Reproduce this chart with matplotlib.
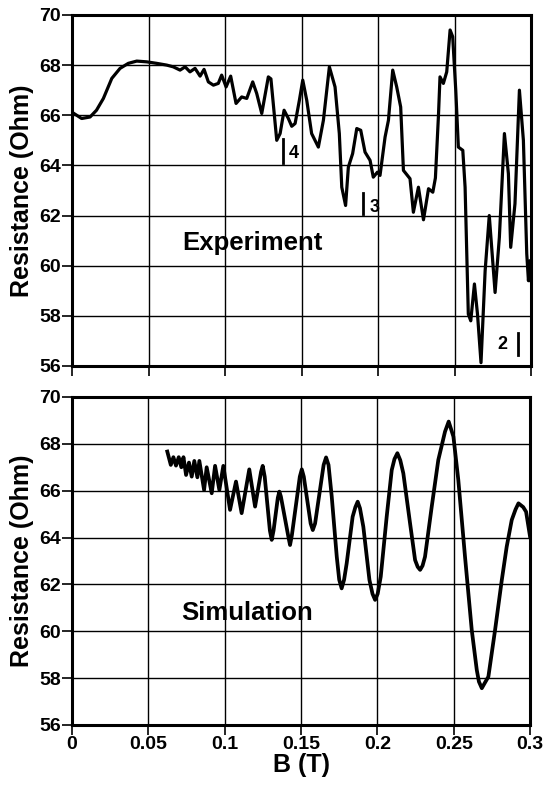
import numpy as np
import matplotlib
matplotlib.use("Agg")
from matplotlib import pyplot as plt

plt.rcParams["font.family"] = ["Liberation Sans", "DejaVu Sans"]
plt.rcParams["font.weight"] = "bold"

# measured resistance vs field
b_exp = [0, 0.0063, 0.0118, 0.016, 0.0205, 0.026, 0.0314, 0.0368, 0.0423, 0.0488,
         0.0553, 0.0619, 0.0662, 0.0706, 0.0739, 0.0771, 0.0804, 0.0837, 0.0863, 0.0891,
         0.0924, 0.0956, 0.0978, 0.1007, 0.1037, 0.1072, 0.1109, 0.1142, 0.1181, 0.1207,
         0.124, 0.1283, 0.130, 0.1338, 0.136, 0.1386, 0.1414, 0.1436, 0.1458, 0.1486,
         0.1508, 0.1534, 0.1566, 0.161, 0.1643, 0.1682, 0.1719, 0.1747, 0.1763, 0.1788,
         0.1806, 0.1834, 0.1861, 0.1887, 0.1915, 0.1948, 0.1969, 0.1996, 0.2013, 0.2046,
         0.2068, 0.2096, 0.2122, 0.2148, 0.2166, 0.2209, 0.2231, 0.2264, 0.2297, 0.2330,
         0.2358, 0.2375, 0.2395, 0.2405, 0.2427, 0.2449, 0.2471, 0.2488, 0.2508, 0.2525,
         0.2554, 0.2569, 0.259, 0.2606, 0.263, 0.265, 0.2673, 0.270, 0.2727, 0.2765,
         0.2793, 0.2826, 0.2852, 0.2867, 0.2895, 0.2924, 0.295, 0.2972, 0.2983, 0.2993,
         0.3]
r_exp = [66.12, 65.87, 65.93, 66.2, 66.67, 67.47, 67.87, 68.07, 68.16, 68.13,
         68.07, 68.0, 67.93, 67.8, 67.93, 67.73, 67.87, 67.56, 67.83, 67.33,
         67.2, 67.27, 67.6, 67.13, 67.56, 66.47, 66.73, 66.67, 67.33, 66.87,
         66.07, 67.53, 67.45, 65.0, 65.27, 66.2, 65.87, 65.56, 65.67, 66.6,
         67.4, 66.6, 65.27, 64.73, 65.8, 67.93, 67.13, 65.27, 63.13, 62.4,
         63.93, 64.47, 65.47, 65.4, 64.53, 64.2, 63.53, 63.73, 63.6, 65.13,
         65.8, 67.8, 67.13, 66.33, 63.8, 63.47, 62.13, 63.13, 61.83, 63.07,
         62.93, 63.5, 66.0, 67.53, 67.27, 67.73, 69.4, 69.13, 67.0, 64.73,
         64.6, 63.13, 58.07, 57.8, 59.27, 58.07, 56.13, 59.8, 62.0, 58.93,
         61.13, 65.27, 63.67, 60.73, 62.47, 67.0, 65.0, 60.47, 59.4, 60.2,
         59.4]

# simulated resistance vs field
b_sim = [0.0624, 0.0647, 0.0664, 0.0681, 0.0699, 0.0716, 0.0730, 0.0747, 0.0766, 0.0784,
         0.0801, 0.0821, 0.0834, 0.0865, 0.0882, 0.0915, 0.0937, 0.0965, 0.0991, 0.1035,
         0.1074, 0.1111, 0.1161, 0.1199, 0.1238, 0.1249, 0.1262, 0.1296, 0.1308, 0.1320,
         0.1348, 0.1358, 0.1368, 0.1418, 0.1428, 0.1440, 0.1492, 0.1505, 0.1518, 0.1563,
         0.1577, 0.1592, 0.1648, 0.1664, 0.1680, 0.1701, 0.1734, 0.1750, 0.1766, 0.1782,
         0.1799, 0.1838, 0.1856, 0.1871, 0.1886, 0.1908, 0.1948, 0.1968, 0.1985, 0.2002,
         0.2022, 0.2061, 0.2094, 0.2112, 0.2131, 0.2150, 0.217, 0.2214, 0.2247, 0.2264,
         0.228, 0.2296, 0.2312, 0.2356, 0.2399, 0.2443, 0.2467, 0.2498, 0.253, 0.2574,
         0.2618, 0.2651, 0.2665, 0.2684, 0.2704, 0.2727, 0.2771, 0.2815, 0.2847, 0.288,
         0.2905, 0.2924, 0.2955, 0.2974, 0.3]
r_sim = [67.67, 67.1, 67.43, 67.07, 67.43, 67.0, 67.43, 66.67, 67.2, 66.6,
         67.27, 66.57, 67.27, 66.03, 67.0, 65.89, 67.06, 66.03, 67.06, 65.18,
         66.39, 65.04, 66.91, 65.32, 66.8, 67.06, 66.6, 64.3, 63.9, 64.3,
         65.7, 65.96, 65.75, 64.0, 63.68, 64.1, 66.6, 66.91, 66.6, 64.6,
         64.32, 64.6, 67.1, 67.42, 67.1, 65.75, 63.18, 62.2, 61.83, 62.2,
         62.9, 64.89, 65.3, 65.53, 65.25, 64.46, 62.19, 61.6, 61.34, 61.6,
         62.33, 64.89, 66.88, 67.35, 67.6, 67.3, 66.74, 64.61, 63.04, 62.75,
         62.62, 62.8, 63.18, 65.32, 67.31, 68.52, 68.95, 68.31, 66.46, 63.18,
         60.06, 58.35, 57.85, 57.57, 57.8, 58.06, 60.06, 62.19, 63.61, 64.75,
         65.2, 65.46, 65.3, 65.1, 64.04]

xticks = [0, 0.05, 0.1, 0.15, 0.2, 0.25, 0.3]
xtick_labels = ["0", "0.05", "0.1", "0.15", "0.2", "0.25", "0.3"]
yticks = [56, 58, 60, 62, 64, 66, 68, 70]

fig = plt.figure(figsize=(5.46, 7.87), dpi=100)
ax1 = fig.add_axes([0.1319, 0.535, 0.8407, 0.446])
ax2 = fig.add_axes([0.1319, 0.0788, 0.8389, 0.4168])

for ax in (ax1, ax2):
    ax.set_xlim(0, 0.3)
    ax.set_ylim(56, 70)
    ax.set_xticks(xticks)
    ax.set_yticks(yticks)
    ax.grid(True, color="black", linewidth=1.0)
    ax.set_axisbelow(True)
    for s in ax.spines.values():
        s.set_linewidth(2.2)
    ax.tick_params(direction="out", length=7, width=1.2, labelsize=14, pad=1)
    ax.set_ylabel("Resistance (Ohm)", fontsize=18, fontweight="bold", labelpad=4)

ax1.set_xticklabels([])
ax2.set_xticklabels(xtick_labels)
ax2.set_xlabel("B (T)", fontsize=18, fontweight="bold", labelpad=0)

ax1.plot(b_exp, r_exp, color="black", linewidth=2.3, solid_joinstyle="round")
ax2.plot(b_sim, r_sim, color="black", linewidth=2.7, solid_joinstyle="round")

ax1.text(0.118, 60.9, "Experiment", fontsize=18.5, fontweight="bold", ha="center", va="center")
ax2.text(0.1146, 60.8, "Simulation", fontsize=18.5, fontweight="bold", ha="center", va="center")

# filling-factor markers
ax1.plot([0.1379, 0.1379], [64.08, 65.04], color="black", linewidth=2)
ax1.text(0.1448, 64.46, "4", fontsize=13, fontweight="bold", ha="center", va="center")
ax1.plot([0.1905, 0.1905], [62.08, 62.88], color="black", linewidth=2)
ax1.text(0.1978, 62.34, "3", fontsize=13, fontweight="bold", ha="center", va="center")
ax1.text(0.281, 56.86, "2", fontsize=13, fontweight="bold", ha="center", va="center")
ax1.plot([0.2912, 0.2912], [56.44, 57.33], color="black", linewidth=2)

fig.savefig("out.png", dpi=100)
